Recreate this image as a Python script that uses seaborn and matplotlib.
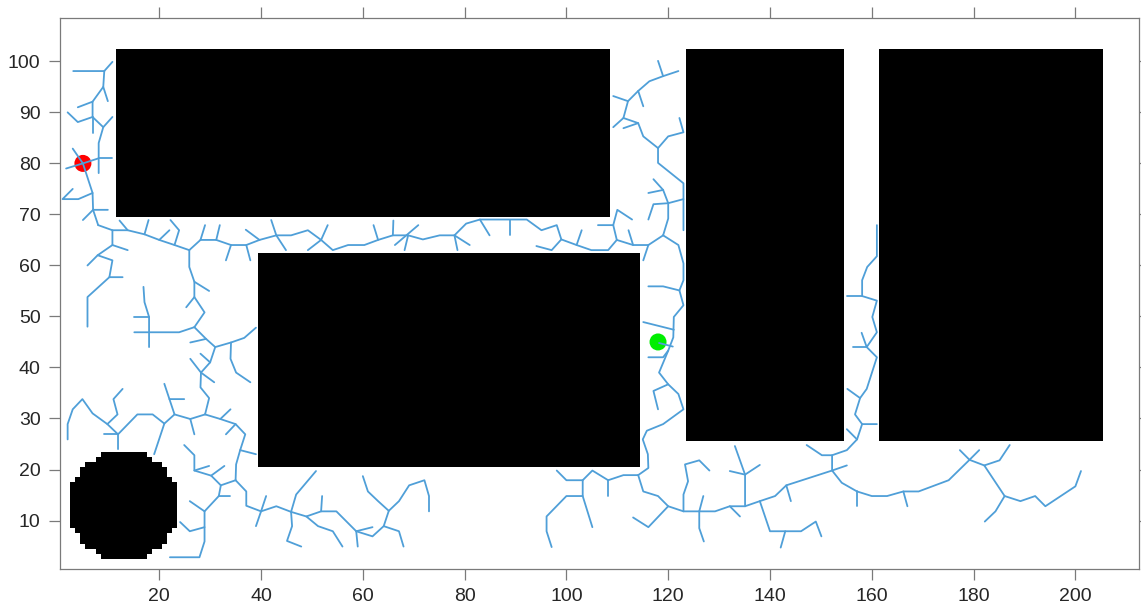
import numpy as np
import pandas as pd
import seaborn as sns
import matplotlib
matplotlib.use("Agg")
import matplotlib.pyplot as plt

# map size (cells) and obstacles
map_w, map_h = 212, 108
rect_x0 = [12, 40, 124, 162]
rect_x1 = [108, 114, 154, 205]
rect_y0 = [70, 21, 26, 26]
rect_y1 = [102, 62, 102, 102]
circle_cx, circle_cy, circle_r = 13, 13, 10.8

start_pt = (5.0, 80.0)
goal_pt = (118.0, 45.0)

# RRT tree branches (polylines, data coords)
tree_top_left = [
    [(3.1, 98.1), (9.2, 98.1), (10.8, 99.9)],
    [(9.2, 98.1), (9.0, 95.0), (9.9, 92.2)],
    [(9.0, 95.0), (6.9, 92.1), (4.0, 91.0)],
    [(6.9, 92.1), (6.9, 89.1), (4.0, 88.1), (2.0, 90.0)],
    [(6.9, 89.1), (6.9, 86.0)],
    [(6.9, 89.1), (9.0, 87.1), (10.8, 89.1)],
    [(9.0, 87.1), (8.1, 84.0), (8.1, 78.1)],
    [(8.1, 81.0), (10.8, 81.0)],
    [(1.7, 79.0), (5.0, 80.0), (8.1, 81.0)],
    [(3.0, 82.9), (5.0, 80.0), (6.9, 74.2), (4.1, 73.0), (1.0, 73.0), (3.0, 75.0)],
    [(6.9, 74.2), (7.0, 70.9), (9.9, 70.9)],
    [(7.0, 70.9), (5.0, 68.9)],
    [(7.0, 70.9), (8.0, 67.9)],
]

tree_corridor = [
    [(8.0, 67.9), (10.8, 66.9), (13.8, 66.9), (17.1, 66.1), (20.0, 65.0), (23.0, 64.0),
     (25.9, 63.0), (28.1, 65.0), (31.2, 65.0), (34.1, 64.0), (37.1, 64.0), (39.7, 65.0),
     (43.0, 65.9), (45.9, 65.9), (49.2, 66.9), (51.8, 65.0), (54.1, 63.0), (57.1, 64.0),
     (60.3, 64.0), (63.0, 65.0), (65.9, 65.9), (68.9, 65.9), (71.8, 65.1), (75.1, 65.9),
     (78.0, 65.9), (80.3, 68.2), (83.0, 69.0), (92.2, 69.0), (95.1, 66.9), (98.1, 67.9),
     (99.0, 65.1), (102.0, 64.0), (104.9, 63.0), (108.2, 63.0), (109.9, 65.0),
     (113.1, 64.0), (116.1, 64.0), (119.0, 65.9)],
    [(13.8, 66.9), (12.2, 68.8)],
    [(17.1, 66.1), (17.9, 68.9)],
    [(20.0, 65.0), (22.0, 66.9)],
    [(23.0, 64.0), (23.9, 66.9), (22.2, 68.9)],
    [(28.1, 65.0), (29.0, 67.9)],
    [(31.2, 65.0), (31.9, 67.9)],
    [(34.1, 64.0), (33.1, 61.0)],
    [(37.1, 64.0), (37.9, 61.0)],
    [(39.7, 65.0), (37.0, 67.0)],
    [(43.0, 65.9), (42.0, 68.9)],
    [(43.0, 65.9), (44.9, 63.0)],
    [(51.8, 65.0), (53.1, 67.9)],
    [(51.8, 65.0), (49.2, 63.0)],
    [(63.0, 65.0), (62.1, 67.9)],
    [(65.9, 65.9), (66.0, 68.8)],
    [(66.3, 64.0), (70.9, 67.9)],
    [(68.2, 63.0), (68.9, 65.9)],
    [(78.0, 65.9), (81.0, 64.0)],
    [(78.0, 65.9), (78.6, 63.0)],
    [(83.0, 69.0), (84.9, 65.9)],
    [(89.0, 69.0), (89.0, 65.9)],
    [(99.0, 65.1), (97.1, 63.0), (94.1, 63.8)],
    [(102.0, 64.0), (103.0, 66.9)],
    [(109.9, 65.0), (109.2, 67.9), (106.2, 67.9)],
    [(109.2, 67.9), (110.0, 70.9), (112.9, 69.0)],
    [(113.1, 64.0), (112.2, 66.9)],
    [(116.1, 64.0), (115.1, 61.0)],
]

tree_upper_gap = [
    [(119.0, 65.9), (120.0, 69.2), (120.0, 72.2), (119.0, 74.8), (117.1, 76.9)],
    [(119.0, 74.8), (116.1, 74.2)],
    [(120.0, 72.2), (123.0, 73.0)],
    [(120.0, 72.2), (117.1, 72.0), (116.1, 69.0)],
    [(123.0, 66.9), (123.0, 76.1), (118.0, 80.1), (118.0, 83.0)],
    [(118.0, 83.0), (120.0, 85.3), (123.0, 86.1), (122.2, 88.9)],
    [(118.0, 83.0), (115.1, 85.3), (114.1, 87.9), (111.2, 88.9)],
    [(114.1, 87.9), (111.2, 86.9)],
    [(109.2, 87.1), (111.2, 88.9), (112.1, 92.2), (114.1, 94.2), (116.3, 96.1),
     (119.0, 97.1), (122.0, 98.1)],
    [(112.1, 92.2), (109.2, 93.2)],
    [(119.0, 97.1), (118.0, 100.1)],
    [(114.1, 94.2), (115.1, 91.2)],
]

tree_lower_gap = [
    [(119.0, 65.9), (122.0, 64.0), (123.0, 60.4), (123.0, 57.1), (122.2, 55.1), (123.0, 52.2),
     (121.1, 49.9), (121.0, 45.9), (120.0, 43.3), (118.2, 39.0), (120.0, 36.7), (122.0, 34.8),
     (123.0, 31.8), (119.0, 28.9), (115.8, 27.6), (115.0, 25.9), (116.0, 23.0), (116.1, 20.3),
     (114.1, 18.9)],
    [(122.2, 55.1), (119.0, 55.9), (116.1, 55.9)],
    [(121.1, 47.4), (115.1, 48.9)],
    [(118.2, 44.8), (120.9, 44.1)],
    [(120.0, 43.3), (119.0, 42.0), (116.1, 42.0)],
    [(120.0, 36.7), (117.1, 35.4), (118.0, 31.8)],
]

tree_bottom_mid = [
    [(114.1, 18.9), (111.2, 18.9), (108.2, 17.9), (105.1, 19.8), (103.2, 17.9), (100.0, 17.9),
     (98.1, 19.8)],
    [(103.2, 17.9), (103.2, 14.8), (100.0, 14.8), (96.1, 10.8), (96.1, 7.9), (97.1, 4.8)],
    [(103.2, 14.8), (105.1, 8.7)],
    [(108.2, 17.9), (108.2, 14.8)],
    [(114.1, 18.9), (115.1, 15.7), (118.0, 14.8), (120.0, 12.8), (123.0, 11.8), (126.1, 11.8),
     (129.2, 11.8), (132.1, 12.8), (135.1, 12.8), (138.0, 13.8), (141.0, 14.8), (143.2, 16.9),
     (152.2, 19.8), (152.2, 22.8), (155.1, 23.8), (157.1, 25.9), (158.1, 28.9), (161.0, 28.9)],
    [(120.0, 12.8), (116.1, 8.7), (113.1, 10.6)],
    [(123.0, 11.8), (123.0, 15.1), (123.9, 17.7), (123.3, 21.0), (126.1, 21.8), (128.1, 19.8)],
    [(126.1, 11.8), (126.9, 14.8)],
    [(126.1, 11.8), (126.1, 8.5), (127.0, 5.9)],
    [(132.1, 12.8), (134.1, 10.8)],
    [(135.1, 12.8), (135.1, 19.0), (133.1, 24.6)],
    [(132.1, 19.7), (135.1, 19.0), (138.0, 20.9)],
    [(138.0, 13.8), (140.0, 7.9), (143.0, 7.9), (146.1, 7.9), (149.0, 9.8), (150.1, 6.9)],
    [(143.0, 7.9), (142.1, 4.7)],
    [(143.2, 16.9), (144.1, 13.8)],
    [(152.2, 22.8), (150.2, 22.8), (147.2, 24.8)],
    [(157.1, 25.9), (155.1, 27.9)],
    [(152.2, 19.8), (155.1, 20.8)],
]

tree_bottom_right = [
    [(152.2, 19.8), (154.1, 17.4), (157.1, 15.7), (160.0, 14.8), (163.0, 14.8), (166.2, 15.7),
     (169.2, 15.7), (175.1, 17.9), (179.2, 21.9), (182.1, 20.8), (185.1, 21.8), (187.1, 24.8)],
    [(157.1, 15.7), (157.1, 12.8)],
    [(166.2, 15.7), (167.0, 12.8)],
    [(177.3, 23.8), (179.2, 21.9), (181.1, 23.8)],
    [(182.1, 20.8), (186.1, 14.8), (189.2, 13.8), (192.1, 14.8), (194.1, 12.8), (200.0, 16.7),
     (201.1, 19.7)],
    [(186.1, 14.8), (184.3, 11.8), (182.2, 9.8)],
]

tree_right_gap = [
    [(158.1, 28.9), (156.7, 30.8), (157.7, 34.0), (159.0, 35.8), (161.0, 42.0), (159.0, 44.0),
     (161.0, 46.9), (160.1, 49.9), (161.0, 53.1), (158.1, 54.0), (158.1, 57.1), (159.1, 59.7),
     (161.0, 61.8), (161.0, 67.9)],
    [(157.7, 34.0), (155.2, 35.8)],
    [(159.0, 44.0), (156.3, 44.0)],
    [(159.0, 44.0), (158.0, 46.8)],
    [(158.1, 54.0), (155.2, 54.0)],
]

tree_left = [
    [(10.8, 66.9), (10.8, 64.0), (13.8, 63.0)],
    [(10.8, 64.0), (7.9, 62.0), (5.9, 60.0)],
    [(7.9, 62.0), (10.8, 61.0), (10.2, 57.7), (12.8, 57.7)],
    [(10.2, 57.7), (5.9, 53.8), (5.9, 48.0)],
    [(25.9, 63.0), (25.9, 59.7), (26.9, 56.8), (29.8, 55.0)],
    [(26.9, 56.8), (26.9, 53.8), (25.3, 51.8)],
    [(26.9, 53.8), (28.9, 50.8), (26.9, 47.9)],
    [(26.9, 47.9), (23.9, 46.9), (18.0, 46.9), (15.1, 46.9)],
    [(18.0, 44.0), (18.0, 49.9), (17.1, 52.8), (16.9, 55.8)],
    [(15.1, 49.9), (18.0, 49.9)],
    [(26.9, 47.9), (29.2, 45.6), (31.0, 44.0), (34.1, 44.9), (36.7, 45.8), (39.0, 47.8)],
    [(29.2, 45.6), (26.1, 44.9)],
    [(34.1, 44.9), (34.0, 41.7), (35.1, 39.0), (37.9, 37.1)],
    [(31.0, 44.0), (30.0, 41.0), (28.2, 39.0), (26.1, 41.7)],
    [(30.0, 41.0), (28.1, 42.7)],
    [(28.2, 39.0), (30.8, 37.1)],
    [(28.2, 39.0), (28.1, 36.1), (29.8, 34.0), (29.0, 30.8)],
    [(29.0, 30.8), (26.1, 29.9), (23.0, 30.8), (21.0, 29.0), (19.0, 23.0)],
    [(26.1, 29.9), (26.9, 26.9)],
    [(23.0, 30.8), (22.0, 33.8), (24.9, 33.8)],
    [(22.0, 33.8), (21.0, 36.8)],
    [(21.0, 29.0), (18.7, 30.8), (15.7, 30.8), (11.9, 26.9), (11.9, 24.0)],
    [(11.9, 26.9), (9.1, 26.9)],
    [(11.9, 26.9), (9.8, 28.9), (6.9, 31.0), (4.9, 33.8), (3.0, 31.8), (2.0, 28.9), (2.0, 25.9)],
    [(9.8, 28.9), (11.8, 30.8), (11.0, 33.8), (12.8, 35.8)],
    [(29.0, 30.8), (32.0, 29.9), (35.0, 28.9), (36.9, 26.9), (35.9, 23.8), (35.1, 21.0), (35.0, 17.9)],
    [(32.0, 29.9), (34.0, 31.8)],
    [(35.0, 28.9), (33.1, 26.9)],
    [(35.9, 23.8), (39.0, 23.0)],
]

tree_bottom_left = [
    [(35.0, 17.9), (32.1, 16.9), (30.2, 18.8), (26.9, 19.8), (26.9, 22.8), (24.9, 24.8)],
    [(26.9, 19.8), (29.8, 20.7)],
    [(30.2, 18.8), (32.8, 20.7)],
    [(32.1, 16.9), (31.7, 14.8), (33.9, 14.8)],
    [(31.7, 14.8), (28.9, 11.8), (26.0, 13.8)],
    [(28.9, 11.8), (28.9, 8.7), (26.0, 7.9), (24.1, 9.7)],
    [(28.9, 8.7), (28.9, 5.9), (27.9, 2.8), (22.1, 2.8)],
    [(35.0, 17.9), (37.1, 15.7), (37.1, 12.9), (40.0, 11.8), (43.0, 12.8), (45.9, 11.7),
     (48.9, 10.8), (51.8, 11.8), (54.8, 11.8), (58.7, 7.9), (61.9, 6.9), (64.1, 8.9),
     (65.1, 11.9), (67.1, 13.8), (69.1, 16.9), (72.1, 17.9), (73.0, 14.8), (73.0, 11.8)],
    [(40.0, 11.8), (41.0, 14.8)],
    [(40.0, 11.8), (39.0, 8.9)],
    [(45.9, 11.7), (46.9, 15.1), (50.8, 19.7)],
    [(45.9, 11.7), (46.1, 8.9), (45.1, 6.0), (47.9, 4.9)],
    [(48.9, 10.8), (51.2, 8.9), (54.1, 7.9), (56.0, 4.9)],
    [(51.8, 11.8), (52.0, 14.8)],
    [(58.7, 7.9), (59.0, 4.9)],
    [(58.7, 7.9), (61.9, 8.7)],
    [(64.1, 8.9), (67.1, 7.9), (68.0, 4.9)],
    [(65.1, 11.9), (63.0, 13.8), (61.0, 15.7), (60.0, 18.7)],
]

# occupancy grid
grid = np.zeros((map_h, map_w))
cx = np.arange(1, map_w + 1)
cy = np.arange(1, map_h + 1)
GX, GY = np.meshgrid(cx, cy)
for x0, x1, y0, y1 in zip(rect_x0, rect_x1, rect_y0, rect_y1):
    grid[(GX >= x0) & (GX <= x1) & (GY >= y0) & (GY <= y1)] = 1
grid[(GX - circle_cx) ** 2 + (GY - circle_cy) ** 2 <= circle_r ** 2] = 1

all_branches = (tree_top_left + tree_corridor + tree_upper_gap + tree_lower_gap +
                tree_bottom_mid + tree_bottom_right + tree_right_gap + tree_left +
                tree_bottom_left)
rows = []
for i, br in enumerate(all_branches):
    for x, y in br:
        rows.append({"edge": i, "x": x, "y": y})
tree_df = pd.DataFrame(rows)

sns.set_style("ticks")
plt.rcParams['font.family'] = ['Liberation Sans', 'DejaVu Sans']

fig = plt.figure(figsize=(11.41, 6.15), dpi=100)
ax = fig.add_axes([60 / 1141, 46 / 615, 1079 / 1141, 551 / 615])

ax.imshow(grid, cmap="gray_r", origin="lower", interpolation="nearest",
          extent=(0.5, map_w + 0.5, 0.5, map_h + 0.5), vmin=0, vmax=1, zorder=1)

sns.scatterplot(x=[start_pt[0]], y=[start_pt[1]], color="#ff0000", s=150,
                edgecolor="none", ax=ax, zorder=2)
sns.scatterplot(x=[goal_pt[0]], y=[goal_pt[1]], color="#00ee00", s=150,
                edgecolor="none", ax=ax, zorder=2)

sns.lineplot(data=tree_df, x="x", y="y", units="edge", estimator=None, sort=False,
             color="#4f9fd8", lw=1.3, ax=ax, zorder=3)

ax.set_xlim(0.5, map_w + 0.5)
ax.set_ylim(0.5, map_h + 0.5)
ax.set_aspect("auto")
ax.set_xlabel("")
ax.set_ylabel("")
ax.set_xticks(range(20, 201, 20))
ax.set_yticks(range(10, 101, 10))
ax.tick_params(direction="out", length=8, width=0.9, color="#7a7a7a",
               labelsize=14, labelcolor="#262626", top=True, right=True, pad=6)
for sp in ax.spines.values():
    sp.set_visible(True)
    sp.set_color("#7a7a7a")
    sp.set_linewidth(0.9)

fig.savefig("out.png", dpi=100)
